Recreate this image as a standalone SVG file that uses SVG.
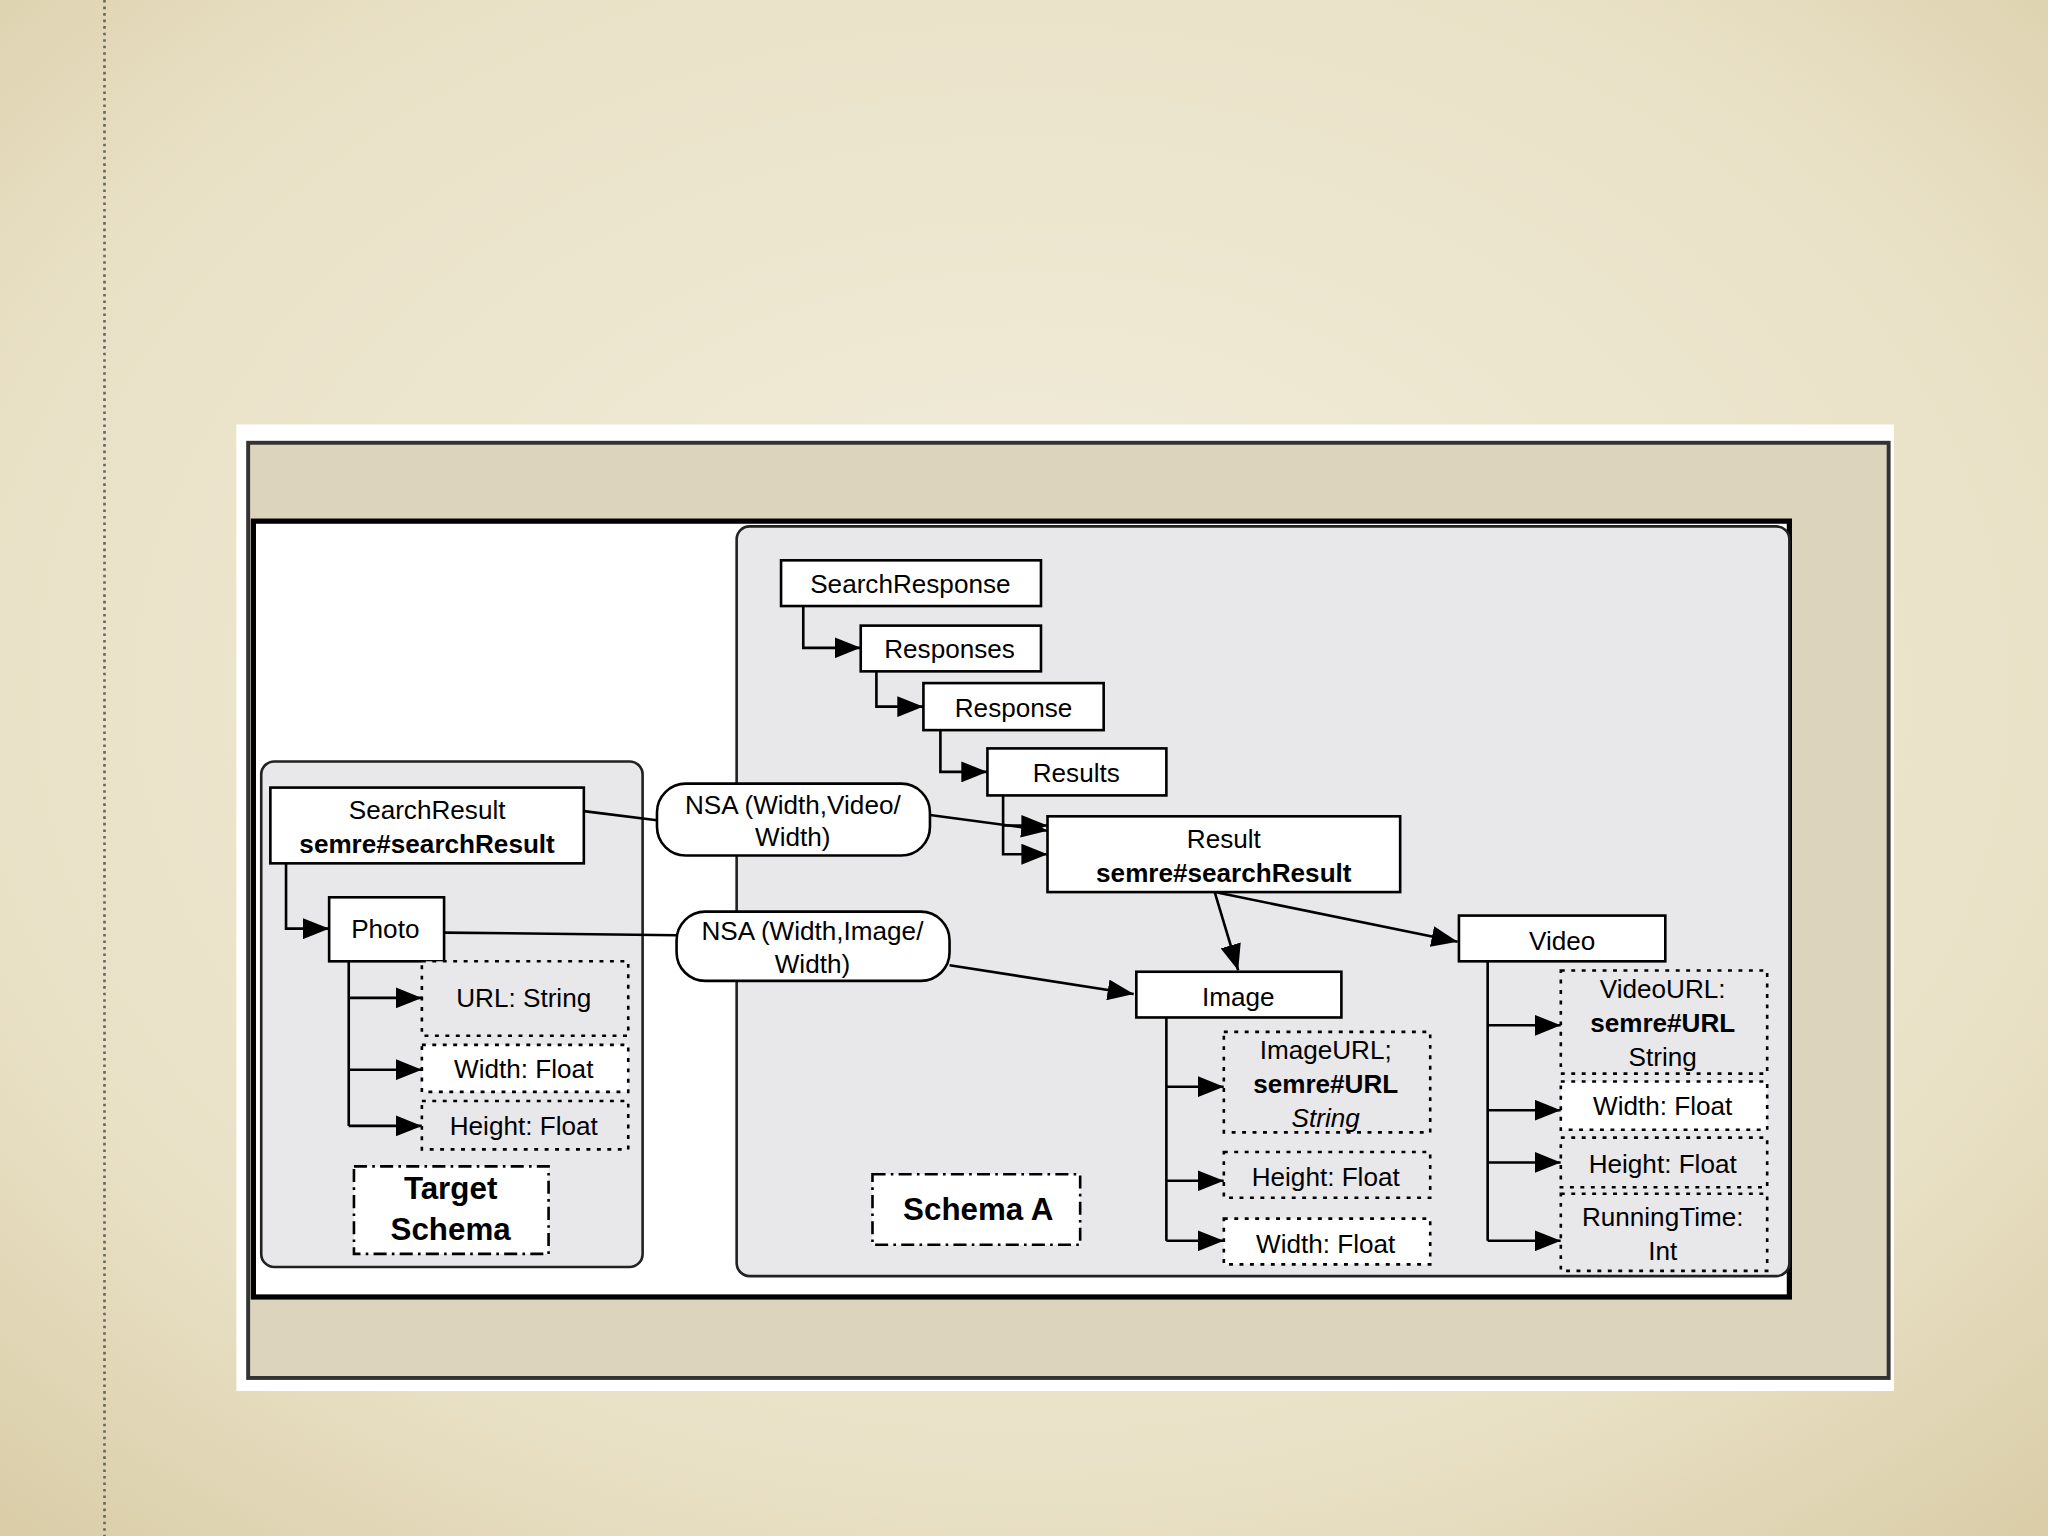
<svg xmlns="http://www.w3.org/2000/svg" width="2048" height="1536" viewBox="0 0 2048 1536">
<defs>
<radialGradient id="bg" cx="50%" cy="45%" r="75%"><stop offset="0" stop-color="#f2eedd"/><stop offset="0.7" stop-color="#e9e1c6"/><stop offset="1" stop-color="#d9cca6"/></radialGradient>
<marker id="ar" viewBox="0 0 10 10" refX="10" refY="5" markerWidth="20" markerHeight="16" markerUnits="userSpaceOnUse" orient="auto" preserveAspectRatio="none"><path d="M0,0 L10,5 L0,10 z" fill="#000"/></marker>
<style>
text{font-family:"Liberation Sans",Arial,sans-serif;font-size:20px;text-anchor:middle;fill:#000}
.b{font-weight:bold}
.i{font-style:italic}
.big{font-size:24px;font-weight:bold}
.box{fill:#fff;stroke:#000;stroke-width:2}
.dot{fill:#e8e7ea;stroke:#000;stroke-width:2;stroke-dasharray:3,5}
.dotw{fill:#fff;stroke:#000;stroke-width:2;stroke-dasharray:3,5}
.dd{fill:#fff;stroke:#000;stroke-width:2;stroke-dasharray:10,4,2,4}
.pill{fill:#fff;stroke:#000;stroke-width:2}
.c{fill:none;stroke:#000;stroke-width:2}
.ca{fill:none;stroke:#000;stroke-width:2;marker-end:url(#ar)}
</style>
</defs>
<rect width="2048" height="1536" fill="url(#bg)"/>
<g transform="scale(1.30612)">
<line x1="80" y1="0" x2="80" y2="1176" stroke="#666" stroke-width="2" stroke-dasharray="2,3"/>
<rect x="181" y="325" width="1269" height="740" fill="#fff"/>
<rect x="190" y="339" width="1256" height="716" fill="#dcd4bd" stroke="#333" stroke-width="3"/>
<rect x="194" y="399" width="1176" height="594" fill="#fff" stroke="#000" stroke-width="4"/>
<rect x="564" y="403" width="806" height="574" rx="10" fill="#e8e7ea" stroke="#222" stroke-width="2"/>
<rect x="200" y="583" width="292" height="387" rx="10" fill="#e8e7ea" stroke="#222" stroke-width="2"/>
<g id="connectors">
<path class="ca" d="M219,661 V711 H252"/>
<path class="c" d="M267,736 V862"/>
<path class="ca" d="M267,764 H323"/>
<path class="ca" d="M267,819 H323"/>
<path class="ca" d="M267,862 H323"/>
<path class="ca" d="M615,464 V496 H659"/>
<path class="ca" d="M671,514 V541 H707"/>
<path class="ca" d="M720,559 V591 H756"/>
<path class="ca" d="M768,609 V654 H802"/>
<path class="ca" d="M768,632 H802"/>
<path class="c" d="M447,621 L503,628"/>
<path class="ca" d="M712,624 L802,636"/>
<path class="c" d="M340,714 L518,716"/>
<path class="ca" d="M727,739 L868,761"/>
<path class="ca" d="M930,683 L948,743"/>
<path class="ca" d="M930,683 L1116,721"/>
<path class="c" d="M893,779 V950"/>
<path class="ca" d="M893,832 H937"/>
<path class="ca" d="M893,904 H937"/>
<path class="ca" d="M893,950 H937"/>
<path class="c" d="M1139,736 V950"/>
<path class="ca" d="M1139,785 H1195"/>
<path class="ca" d="M1139,850 H1195"/>
<path class="ca" d="M1139,890 H1195"/>
<path class="ca" d="M1139,950 H1195"/>
</g>
<g id="searchresult"><rect class="box" x="207" y="603" width="240" height="58"/><text x="327" y="627">SearchResult</text><text class="b" x="327" y="653">semre#searchResult</text></g>
<g id="photo"><rect class="box" x="252" y="687" width="88" height="49"/><text x="295" y="718">Photo</text></g>
<g id="url"><rect class="dot" x="323" y="736" width="158" height="57"/><text x="401" y="771">URL: String</text></g>
<g id="pwidth"><rect class="dotw" x="323" y="800" width="158" height="36"/><text x="401" y="825">Width: Float</text></g>
<g id="pheight"><rect class="dot" x="323" y="843" width="158" height="37"/><text x="401" y="869">Height: Float</text></g>
<g id="target"><rect class="dd" x="271" y="893" width="149" height="67"/><text class="big" x="345" y="918">Target</text><text class="big" x="345" y="949">Schema</text></g>
<g id="schemaA"><rect class="dd" x="668" y="899" width="159" height="54"/><text class="big" x="749" y="934">Schema A</text></g>
<g id="searchresponse"><rect class="box" x="598" y="429" width="199" height="35"/><text x="697" y="454">SearchResponse</text></g>
<g id="responses"><rect class="box" x="659" y="479" width="138" height="35"/><text x="727" y="504">Responses</text></g>
<g id="response"><rect class="box" x="707" y="523" width="138" height="36"/><text x="776" y="549">Response</text></g>
<g id="results"><rect class="box" x="756" y="573" width="137" height="36"/><text x="824" y="599">Results</text></g>
<g id="result"><rect class="box" x="802" y="625" width="270" height="58"/><text x="937" y="649">Result</text><text class="b" x="937" y="675">semre#searchResult</text></g>
<g id="nsa1"><rect class="pill" x="503" y="600" width="209" height="55" rx="22"/><text x="607" y="623">NSA (Width,Video/</text><text x="607" y="648">Width)</text></g>
<g id="nsa2"><rect class="pill" x="518" y="698" width="209" height="53" rx="22"/><text x="622" y="720">NSA (Width,Image/</text><text x="622" y="745">Width)</text></g>
<g id="image"><rect class="box" x="870" y="744" width="157" height="35"/><text x="948" y="770">Image</text></g>
<g id="video"><rect class="box" x="1117" y="701" width="158" height="35"/><text x="1196" y="727">Video</text></g>
<g id="imageurl"><rect class="dot" x="937" y="790" width="158" height="77"/><text x="1015" y="811">ImageURL;</text><text class="b" x="1015" y="837">semre#URL</text><text class="i" x="1015" y="863">String</text></g>
<g id="iheight"><rect class="dot" x="937" y="882" width="158" height="35"/><text x="1015" y="908">Height: Float</text></g>
<g id="iwidth"><rect class="dotw" x="937" y="933" width="158" height="35"/><text x="1015" y="959">Width: Float</text></g>
<g id="videourl"><rect class="dot" x="1195" y="743" width="158" height="79"/><text x="1273" y="764">VideoURL:</text><text class="b" x="1273" y="790">semre#URL</text><text x="1273" y="816">String</text></g>
<g id="vwidth"><rect class="dotw" x="1195" y="828" width="158" height="37"/><text x="1273" y="854">Width: Float</text></g>
<g id="vheight"><rect class="dot" x="1195" y="871" width="158" height="38"/><text x="1273" y="898">Height: Float</text></g>
<g id="running"><rect class="dot" x="1195" y="914" width="158" height="59"/><text x="1273" y="939">RunningTime:</text><text x="1273" y="965">Int</text></g>
</g>
</svg>
